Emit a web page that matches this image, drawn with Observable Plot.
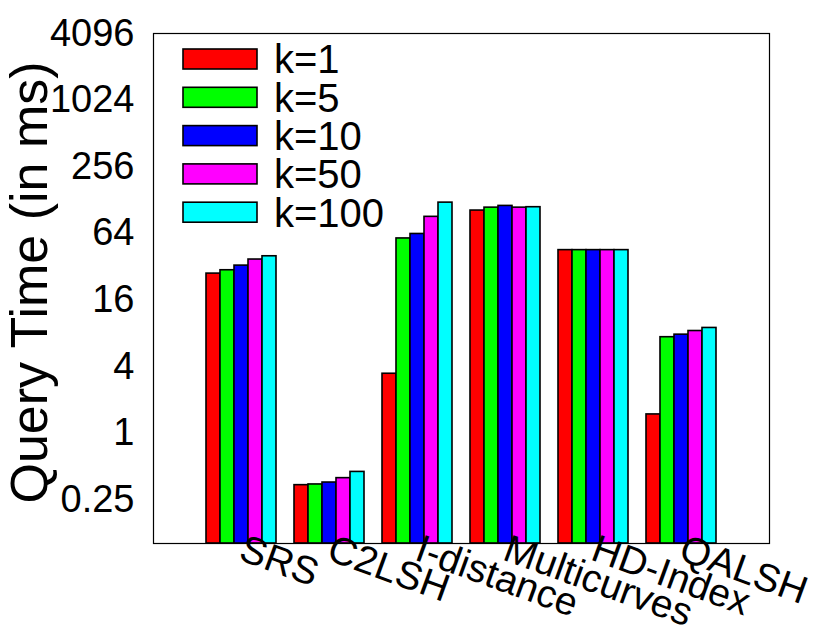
<!DOCTYPE html>
<html>
<head>
<meta charset="utf-8">
<script src="https://cdn.jsdelivr.net/npm/d3@7"></script>
<script src="https://cdn.jsdelivr.net/npm/@observablehq/plot@0.6"></script>
<style>
  html, body { margin: 0; padding: 0; background: #fff; }
  #chart { width: 822px; height: 633px; }
</style>
</head>
<body>
<div id="chart"></div>
<script>
const methods = ["SRS", "C2LSH", "I-distance", "Multicurves", "HD-Index", "QALSH"];
const kLabels = ["k=1", "k=5", "k=10", "k=50", "k=100"];
const kColors = ["#ff0000", "#00ff00", "#0000ff", "#ff00ff", "#00ffff"];

const srs        = [27.6, 29.6, 32.6, 37.0, 39.6];
const c2lsh      = [0.337, 0.342, 0.356, 0.39, 0.444];
const idistance  = [3.43, 57.4, 63.0, 90.0, 121.0];
const multicurves= [102.6, 109.0, 113.0, 109.0, 110.0];
const hdindex    = [45.0, 45.0, 45.0, 45.0, 45.0];
const qalsh      = [1.47, 7.34, 7.74, 8.35, 8.9];

const yTicks = [0.25, 1, 4, 16, 64, 256, 1024, 4096];
const yMin = 0.1, yMax = 4096;
const yLabel = "Query Time (in ms)";

const series = [srs, c2lsh, idistance, multicurves, hdindex, qalsh];
const table = [];
methods.forEach((m, i) => kLabels.forEach((k, j) => table.push({method: m, k, value: series[i][j]})));

const font = "'Liberation Sans', Arial, Helvetica, sans-serif";
const outer = 52; // empty space between frame and the first/last group

const plot = Plot.plot({
  width: 822,
  height: 633,
  marginLeft: 151 + outer,
  marginRight: 50 + outer,
  marginTop: 33,
  marginBottom: 90,
  style: {fontFamily: font, fontSize: "38px", color: "#000", background: "#fff", overflow: "visible"},
  fx: {domain: methods, paddingInner: 0.18, paddingOuter: 0, label: null, axis: null},
  x: {domain: kLabels, padding: 0, axis: null},
  y: {type: "log", base: 2, domain: [yMin, yMax], ticks: yTicks, tickFormat: d => String(d), tickSize: 0, tickPadding: 19 + outer, label: null},
  color: {domain: kLabels, range: kColors},
  marks: [
    Plot.barY(table, {fx: "method", x: "k", y1: yMin, y2: "value", fill: "k", stroke: "#000", strokeWidth: 1.6}),
    Plot.frame({facet: "super", stroke: "#000", strokeWidth: 1.2, insetLeft: -outer, insetRight: -outer}),
    Plot.axisFx({anchor: "bottom", tickRotate: 20, textAnchor: "start", tickSize: 0, tickPadding: 4, fontSize: 39, label: null}),
    Plot.text([yLabel], {facet: "super", frameAnchor: "left", text: d => d, rotate: -90, dx: -107 - outer, dy: -6, lineAnchor: "bottom", textAnchor: "middle", fontSize: 52, fill: "#000"})
  ]
});
document.getElementById("chart").appendChild(plot);

// legend inside the frame, top-left
const color = plot.scale("color");
const svg = d3.select(plot.tagName.toLowerCase() === "svg" ? plot : plot.querySelector("svg"));
const lg = svg.append("g").attr("font-family", font).attr("font-size", 40).attr("text-anchor", "start");
kLabels.forEach((k, j) => {
  const cy = 59 + j * 38.3;
  lg.append("rect").attr("x", 183).attr("y", cy - 10).attr("width", 74).attr("height", 20)
    .attr("fill", color.apply(k)).attr("stroke", "#000").attr("stroke-width", 1.6);
  lg.append("text").attr("x", 274).attr("y", cy).attr("dy", "0.36em").attr("fill", "#000").text(k);
});
</script>
</body>
</html>
